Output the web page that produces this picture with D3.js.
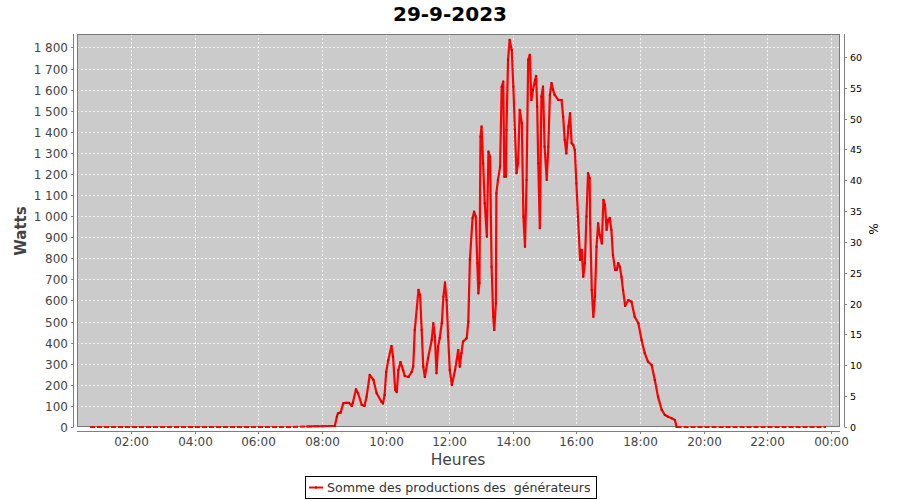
<!DOCTYPE html>
<html><head><meta charset="utf-8">
<script src="https://cdn.jsdelivr.net/npm/d3@7"></script>
<style>body{margin:0;background:#fff} text{font-family:"DejaVu Sans",sans-serif}</style>
</head><body><svg id="c" width="900" height="500"></svg>
<script>
const chartTitle = "29-9-2023";
const seriesName = "Somme des productions des  générateurs";
const xLabel = "Heures", yLabel = "Watts", y2Label = "%";
const hourTicks = ["02:00","04:00","06:00","08:00","10:00","12:00","14:00","16:00","18:00","20:00","22:00","00:00"];
const wattTicks = [0,100,200,300,400,500,600,700,800,900,1000,1100,1200,1300,1400,1500,1600,1700,1800];
const pctTicks = [0,5,10,15,20,25,30,35,40,45,50,55,60];

const nightTimes1 = ["00:42","01:00","02:00","03:00","04:00","05:00","06:00","07:00","07:30","07:45","08:00","08:15"];
const nightWatts1 = [0,0,0,0,0,0,0,0,2,3,4,5];
const dayTimes = ["08:24","08:28","08:30","08:35","08:40","08:46","08:51","08:56","08:58","09:04","09:08","09:15","09:20","09:24","09:30","09:37","09:43","09:52","09:55","09:58",
"10:01","10:05","10:11","10:14","10:18","10:21","10:24","10:28","10:33","10:36","10:43","10:49","10:52","10:55","11:02","11:05","11:08","11:11","11:14","11:20",
"11:27","11:30","11:33","11:36","11:39","11:42","11:46","11:49","11:52","11:55","11:58","12:01","12:05","12:11","12:17","12:20","12:23","12:26","12:33","12:36",
"12:39","12:44","12:47","12:50","12:53","12:55","12:57","12:59","13:01","13:04","13:07","13:11","13:14","13:17","13:20","13:23","13:25","13:28","13:29","13:32",
"13:36","13:39","13:42","13:44","13:47","13:48","13:51","13:54","13:58","14:01","14:04","14:07","14:10","14:13","14:17","14:20","14:23","14:26","14:29","14:32",
"14:35","14:38","14:42","14:44","14:46","14:48","14:51","14:54","14:57","15:00","15:04","15:07","15:10","15:13","15:16","15:19","15:26","15:32","15:35","15:38",
"15:41","15:45","15:48","15:51","15:54","15:57","16:00","16:03","16:07","16:10","16:13","16:16","16:19","16:22","16:25","16:26","16:29","16:32","16:35","16:38",
"16:41","16:44","16:48","16:51","16:54","16:57","17:00","17:03","17:06","17:09","17:13","17:16","17:19","17:22","17:25","17:28","17:32","17:38","17:44","17:50",
"17:57","18:03","18:09","18:15","18:22","18:28","18:34","18:41","18:47","18:53","19:00","19:06","19:09"];
const dayWatts = [5,49,65,68,112,115,114,100,114,179,160,104,100,144,247,223,160,120,112,152,
261,318,384,334,176,166,270,308,270,242,237,261,286,460,650,626,460,286,237,326,
413,492,428,255,381,421,492,618,685,602,428,270,199,270,365,286,350,405,421,500,
792,990,1021,998,777,634,682,1377,1425,1251,1061,903,1306,1282,760,523,460,587,1109,1172,
1235,1614,1638,1187,1187,1409,1741,1836,1788,1614,1409,1204,1251,1504,1441,998,855,1172,1741,1765,
1551,1599,1646,1665,1520,1251,943,1567,1614,1330,1172,1330,1575,1631,1599,1575,1551,1551,1472,1362,
1298,1425,1488,1346,1338,1314,1156,998,792,840,713,777,998,1204,1181,966,650,523,618,855,
966,911,871,1077,1053,935,982,992,935,816,745,745,777,760,713,650,574,602,594,523,
492,413,350,310,294,223,144,81,57,49,41,33,0];
const nightTimes2 = ["19:09","19:30","20:00","20:30","21:00","21:30","22:00","22:30","23:00","23:30","23:51"];
const nightWatts2 = [0,0,0,0,0,0,0,0,0,0,0];

const toMin = s => { const [h,m] = s.split(":").map(Number); return h*60+m; };
const zip = (t,w) => t.map((s,i)=>({t:toMin(s), w:w[i]}));
const night1 = zip(nightTimes1, nightWatts1);
const day = zip(dayTimes, dayWatts);
const night2 = zip(nightTimes2, nightWatts2);

const svg = d3.select("#c");
const L=77, R=840, T=34, B=427;
const x = d3.scaleLinear().domain([17.5, 1457.5]).range([L, R]);
const y = d3.scaleLinear().domain([0, 1864]).range([B, T]);
const y2 = d3.scaleLinear().domain([0, 63.7]).range([B, T]);

svg.append("text").attr("x",450).attr("y",21).attr("text-anchor","middle")
  .attr("font-size",20).attr("font-weight","bold").attr("fill","#000").text(chartTitle);

svg.append("rect").attr("x",L).attr("y",T).attr("width",R-L).attr("height",B-T).attr("fill","#cbcbcb");

// grid
const g = svg.append("g");
g.selectAll(".hg").data(wattTicks).join("line")
  .attr("x1",L).attr("x2",R).attr("y1",d=>Math.round(y(d))+0.5).attr("y2",d=>Math.round(y(d))+0.5)
  .attr("stroke","#fff").attr("stroke-width",1).attr("stroke-dasharray","2,2").attr("opacity",0.75);
g.selectAll(".vg").data(hourTicks).join("line")
  .attr("x1",(d,i)=>Math.round(x((i+1)*120))+0.5).attr("x2",(d,i)=>Math.round(x((i+1)*120))+0.5)
  .attr("y1",T).attr("y2",B)
  .attr("stroke","#fff").attr("stroke-width",1).attr("stroke-dasharray","2,2").attr("opacity",0.75);

svg.append("rect").attr("x",L+0.5).attr("y",T+0.5).attr("width",R-L-1).attr("height",B-T-1)
  .attr("fill","none").attr("stroke","#7a7a7a");

// data line
const line = d3.line().x(d=>x(d.t)).y(d=>y(d.w));
svg.append("clipPath").attr("id","cp").append("rect").attr("x",L).attr("y",T).attr("width",R-L).attr("height",B-T+2);
const pg = svg.append("g").attr("clip-path","url(#cp)");
pg.append("path").datum(night1).attr("d",line).attr("fill","none").attr("stroke","#ff0000").attr("stroke-width",2).attr("stroke-dasharray","5,2");
pg.append("path").datum(night1.slice(-4).concat(day.slice(0,1))).attr("d",line).attr("fill","none").attr("stroke","#ff0000").attr("stroke-width",2);
pg.append("path").datum(day).attr("d",line).attr("fill","none").attr("stroke","#ff0000").attr("stroke-width",2.2).attr("stroke-linejoin","round");
pg.append("path").datum(night2).attr("d",line).attr("fill","none").attr("stroke","#ff0000").attr("stroke-width",2).attr("stroke-dasharray","5,2");
pg.selectAll(".mk").data(day).join("rect").attr("x",d=>x(d.t)-1).attr("y",d=>y(d.w)-1).attr("width",2).attr("height",2).attr("fill","#d00000");

// axes
const xa = svg.append("g").attr("transform",`translate(0,${B+4})`);
xa.append("line").attr("x1",L).attr("x2",R).attr("y1",0.5).attr("y2",0.5).attr("stroke","#808080");
xa.selectAll(".xt").data(hourTicks).join("g").attr("transform",(d,i)=>`translate(${Math.round(x((i+1)*120))+0.5},0)`)
  .each(function(d){
    const s=d3.select(this);
    s.append("line").attr("y1",0.5).attr("y2",3).attr("stroke","#808080");
    s.append("text").attr("y",15).attr("text-anchor","middle").attr("font-size",12).attr("fill","#444").text(d);
  });
svg.append("text").attr("x",458).attr("y",465).attr("text-anchor","middle").attr("font-size",15.5).attr("fill","#444").text(xLabel);

const fmt = v => v>=1000 ? d3.format(",")(v).replace(",", "\u00a0") : String(v);
const ya = svg.append("g").attr("transform",`translate(${L-3},0)`);
ya.append("line").attr("x1",-0.5).attr("x2",-0.5).attr("y1",T).attr("y2",B).attr("stroke","#808080");
ya.selectAll(".yt").data(wattTicks).join("g").attr("transform",d=>`translate(0,${Math.round(y(d))+0.5})`)
  .each(function(d){
    const s=d3.select(this);
    s.append("line").attr("x1",-3).attr("x2",-0.5).attr("stroke","#808080");
    s.append("text").attr("x",-6).attr("y",4.5).attr("text-anchor","end").attr("font-size",12).attr("fill","#444").text(fmt(d));
  });
svg.append("text").attr("transform","translate(26,231) rotate(-90)").attr("text-anchor","middle")
  .attr("font-size",15).attr("font-weight","bold").attr("fill","#444").text(yLabel);

const ya2 = svg.append("g").attr("transform",`translate(${R+4},0)`);
ya2.append("line").attr("x1",0.5).attr("x2",0.5).attr("y1",T).attr("y2",B).attr("stroke","#808080");
ya2.selectAll(".yt2").data(pctTicks).join("g").attr("transform",d=>`translate(0,${Math.round(y2(d))+0.5})`)
  .each(function(d){
    const s=d3.select(this);
    s.append("line").attr("x1",0.5).attr("x2",3).attr("stroke","#808080");
    s.append("text").attr("x",6).attr("y",3.5).attr("text-anchor","start").attr("font-size",9.5).attr("fill","#000").text(d);
  });
svg.append("text").attr("transform","translate(869,229) rotate(90)").attr("text-anchor","middle")
  .attr("font-size",12).attr("fill","#000").text(y2Label);

// legend
const lg = svg.append("g");
lg.append("rect").attr("x",305.5).attr("y",476.5).attr("width",291).attr("height",22).attr("fill","#fff").attr("stroke","#000");
lg.append("line").attr("x1",309).attr("x2",323).attr("y1",487.5).attr("y2",487.5).attr("stroke","#ff0000").attr("stroke-width",2);
lg.append("rect").attr("x",315).attr("y",486.5).attr("width",2).attr("height",2).attr("fill","#d00000");
lg.append("text").attr("x",327).attr("y",492).attr("font-size",12.6).attr("fill","#333")
  .attr("xml:space","preserve").style("white-space","pre").text(seriesName);
</script></body></html>
